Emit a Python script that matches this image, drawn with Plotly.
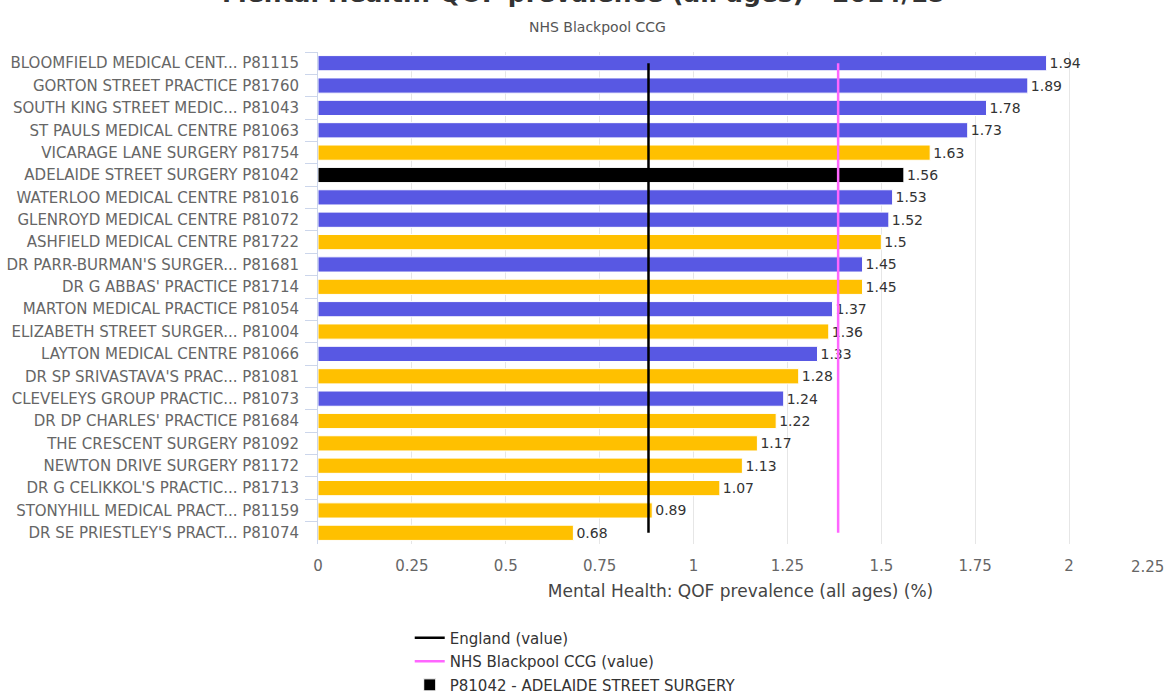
import plotly.graph_objects as go

# ---------------- data ----------------
practices = [
    "BLOOMFIELD MEDICAL CENT... P81115",
    "GORTON STREET PRACTICE P81760",
    "SOUTH KING STREET MEDIC... P81043",
    "ST PAULS MEDICAL CENTRE P81063",
    "VICARAGE LANE SURGERY P81754",
    "ADELAIDE STREET SURGERY P81042",
    "WATERLOO MEDICAL CENTRE P81016",
    "GLENROYD MEDICAL CENTRE P81072",
    "ASHFIELD MEDICAL CENTRE P81722",
    "DR PARR-BURMAN'S SURGER... P81681",
    "DR G ABBAS' PRACTICE P81714",
    "MARTON MEDICAL PRACTICE P81054",
    "ELIZABETH STREET SURGER... P81004",
    "LAYTON MEDICAL CENTRE P81066",
    "DR SP SRIVASTAVA'S PRAC... P81081",
    "CLEVELEYS GROUP PRACTIC... P81073",
    "DR DP CHARLES' PRACTICE P81684",
    "THE CRESCENT SURGERY P81092",
    "NEWTON DRIVE SURGERY P81172",
    "DR G CELIKKOL'S PRACTIC... P81713",
    "STONYHILL MEDICAL PRACT... P81159",
    "DR SE PRIESTLEY'S PRACT... P81074",
]
values = [1.94, 1.89, 1.78, 1.73, 1.63, 1.56, 1.53, 1.52, 1.5, 1.45, 1.45,
          1.37, 1.36, 1.33, 1.28, 1.24, 1.22, 1.17, 1.13, 1.07, 0.89, 0.68]
# group: "blue", "yellow", or "selected"
groups = ["blue", "blue", "blue", "blue", "yellow", "selected", "blue", "blue",
          "yellow", "blue", "yellow", "blue", "yellow", "blue", "yellow", "blue",
          "yellow", "yellow", "yellow", "yellow", "yellow", "yellow"]

england_value = 0.88
ccg_value = 1.385

x_tickvals = [0, 0.25, 0.5, 0.75, 1, 1.25, 1.5, 1.75, 2]
x_ticktext = ["0", "0.25", "0.5", "0.75", "1", "1.25", "1.5", "1.75", "2"]
x_last_tick = 2.25

title_text = "Mental Health: QOF prevalence (all ages) - 2014/15"
subtitle_text = "NHS Blackpool CCG"
x_title = "Mental Health: QOF prevalence (all ages) (%)"
england_name = "England (value)"
ccg_name = "NHS Blackpool CCG (value)"
selected_name = "P81042 - ADELAIDE STREET SURGERY"

# ---------------- styles ----------------
FONT = "DejaVu Sans"
colors = {"blue": "#5858E3", "yellow": "#FFC000", "selected": "#000000"}
BAR_W = 0.68
n = len(practices)

fig = go.Figure()

for g in ["blue", "yellow", "selected"]:
    ys = [p for p, gg in zip(practices, groups) if gg == g]
    xs = [v for v, gg in zip(values, groups) if gg == g]
    fig.add_trace(go.Bar(
        y=ys, x=xs, orientation="h",
        marker=dict(color=colors[g], line=dict(color="#ffffff", width=1)),
        width=BAR_W,
        text=[f"{v:g}" for v in xs],
        textposition="outside",
        textfont=dict(family=FONT, size=14, color="#333333"),
        constraintext="none",
        cliponaxis=False,
        name=selected_name if g == "selected" else g,
        showlegend=(g == "selected"),
        legendgroup=g,
        legendrank=3,
        hoverinfo="x+y",
    ))

fig.add_trace(go.Scatter(
    x=[england_value, england_value], y=[practices[0], practices[-1]],
    mode="lines", line=dict(color="#000000", width=2.5),
    name=england_name, legendgroup="eng", legendrank=1,
))
fig.add_trace(go.Scatter(
    x=[ccg_value, ccg_value], y=[practices[0], practices[-1]],
    mode="lines", line=dict(color="#FF66FF", width=2.5),
    name=ccg_name, legendgroup="ccg", legendrank=2,
))

fig.update_layout(
    width=1164, height=693,
    margin=dict(l=318, r=1, t=52, b=149, autoexpand=False),
    paper_bgcolor="#ffffff", plot_bgcolor="#ffffff",
    barmode="overlay",
    font=dict(family=FONT, color="#666666"),
    showlegend=True,
    legend=dict(
        xref="container", yref="container",
        x=0.352, y=0.103, xanchor="left", yanchor="top",
        font=dict(family=FONT, size=15, color="#333333"),
        tracegroupgap=1, traceorder="grouped",
        bgcolor="rgba(0,0,0,0)",
    ),
    xaxis=dict(
        range=[0, x_last_tick],
        tickvals=x_tickvals, ticktext=x_ticktext,
        automargin=False, tickangle=0,
        showgrid=True, gridcolor="#e6e6e6", gridwidth=1,
        zeroline=False, showline=False,
        ticks="", ticklabelstandoff=11,
        tickfont=dict(family=FONT, size=15, color="#666666"),
        title=dict(text=x_title, standoff=11,
                   font=dict(family=FONT, size=17, color="#444444")),
    ),
    yaxis=dict(
        type="category",
        categoryorder="array", categoryarray=practices,
        range=[n - 0.5, -0.5], automargin=False,
        showgrid=False, zeroline=False,
        showline=True, linecolor="#ccd6eb", linewidth=1,
        ticks="outside", tickson="boundaries", ticklen=12, tickcolor="#ccd6eb",
        ticklabelstandoff=15,
        tickfont=dict(family=FONT, size=15, color="#666666"),
    ),
    annotations=[
        dict(text=f"<b>{title_text}</b>", xref="paper", yref="paper",
             x=(583 - 318) / 845, y=1 + (52 + 6) / 492,
             xanchor="center", yanchor="middle", showarrow=False,
             font=dict(family=FONT, size=25, color="#333333")),
        dict(text=subtitle_text, xref="paper", yref="paper",
             x=(597 - 318) / 845, y=1 + (52 - 27) / 492,
             xanchor="center", yanchor="middle", showarrow=False,
             font=dict(family=FONT, size=14, color="#555555")),
        dict(text=f"{x_last_tick:g}", xref="x", yref="paper",
             x=x_last_tick, y=0, yshift=-12, xshift=3,
             xanchor="right", yanchor="top", showarrow=False,
             font=dict(family=FONT, size=15, color="#666666")),
    ],
)

fig.write_html("out.html")
